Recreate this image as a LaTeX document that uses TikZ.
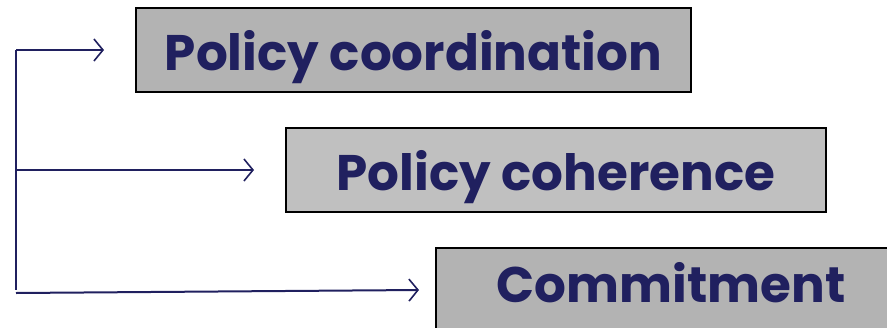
\documentclass[tikz,border=0pt]{standalone}
\usepackage{fontspec}
\setmainfont{Poppins}
\usetikzlibrary{arrows.meta}
\definecolor{navy}{HTML}{20205F}
\definecolor{boxA}{HTML}{B3B3B3}
\definecolor{boxB}{HTML}{C0C0C0}
\tikzset{
  box/.style={draw=black, line width=2pt, rectangle, inner sep=0pt, text depth=0pt,
    font=\fontsize{50}{54}\selectfont\bfseries, text=navy},
  link/.style={draw=navy, line width=2pt, -{Straight Barb[length=9pt,width=22pt,line width=1.6pt]}},
}
\begin{document}
\begin{tikzpicture}[x=1pt,y=-1pt]
\useasboundingbox (0,0) rectangle (887,327);
\clip (0,0) rectangle (887,327);
\node[box, fill=boxA, minimum width=555pt, minimum height=84pt, text height=40pt] (b1) at (413.5,50) {Policy coordination};
\node[box, fill=boxB, minimum width=540pt, minimum height=84pt, text height=40pt] (b2) at (556,170) {Policy coherence};
\node[box, fill=boxA, minimum width=470pt, minimum height=92pt, text height=16pt] (b3) at (671,294) {Commitment};
\coordinate (top) at (16,50);
\coordinate (mid) at (16,170);
\coordinate (bot) at (16,290);
\coordinate (botstart) at (16,293);
\draw[draw=navy, line width=2pt] (top) -- (bot);
\draw[link] (top) -- ([xshift=-31pt]b1.west);
\draw[link] (mid) -- ([xshift=-31pt]b2.west);
\draw[link] (botstart) -- ([xshift=-16pt,yshift=4pt]b3.west);
\end{tikzpicture}
\end{document}
